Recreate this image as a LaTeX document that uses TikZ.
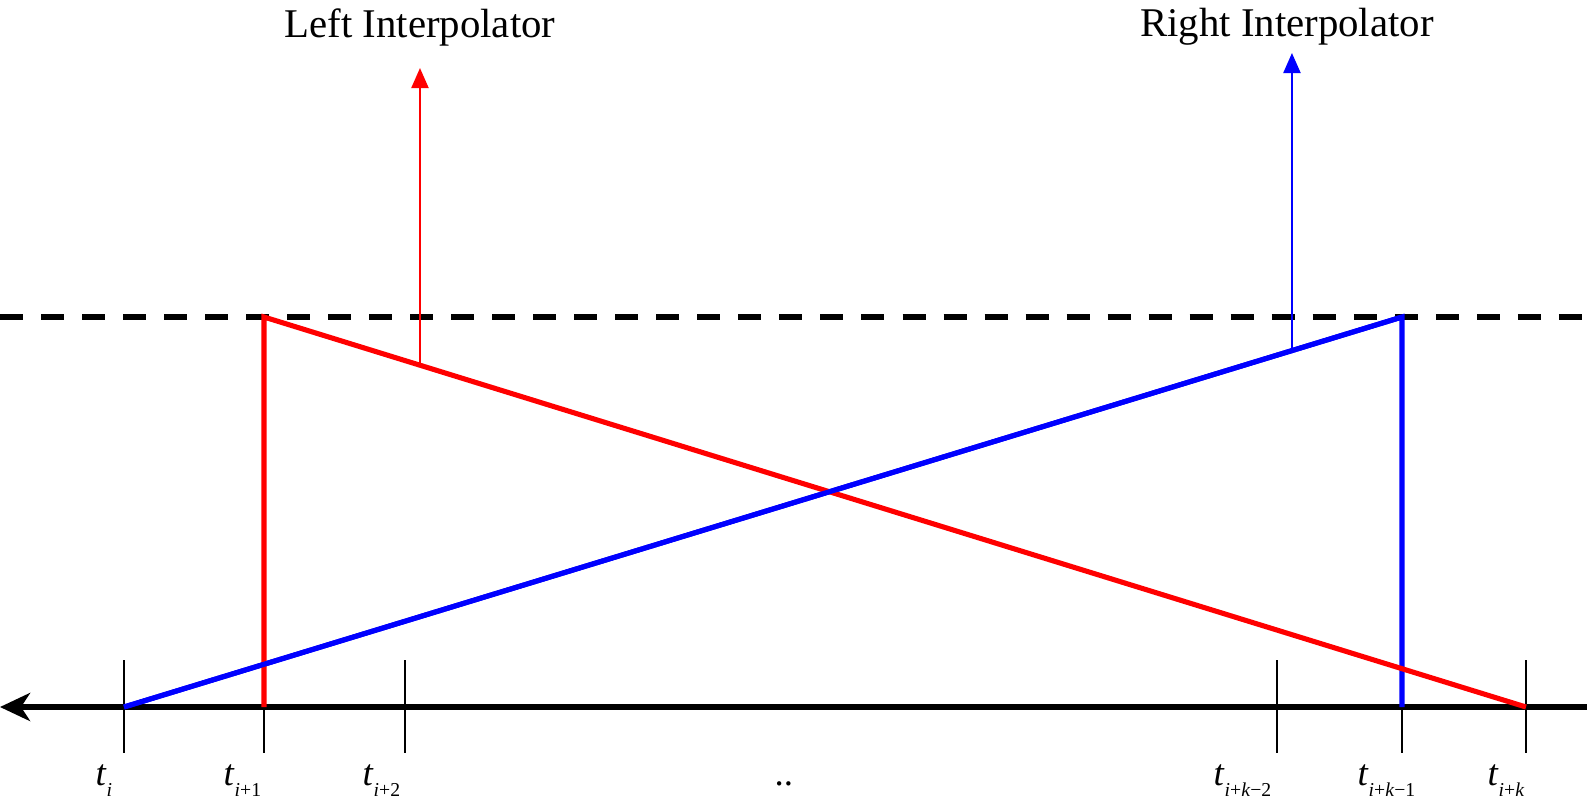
\documentclass[tikz,border=0pt]{standalone}
\usepackage{fontspec}
\setmainfont{Liberation Serif}
\usetikzlibrary{arrows.meta,positioning,calc}

% knot label: t with a lowered index
\newcommand{\knot}[1]{\textit{t}\raisebox{-0.3em}{\fontsize{5.6}{7}\selectfont #1}}

\begin{document}
\begin{tikzpicture}[x=0.01cm,y=-0.01cm,
        axisline/.style={line width=1.9pt, -{Stealth[length=0.3cm,width=0.28cm,inset=0.09cm]}},
        tickline/.style={line width=0.45pt},
        knotlabel/.style={font=\fontsize{10.5}{12}\selectfont, anchor=base west, inner sep=0pt},
        level/.style={line width=1.7pt, dash pattern=on 0.23cm off 0.18cm},
        basis/.style={line width=1.45pt, miter limit=20},
        pointer/.style={line width=0.6pt, -{Triangle[length=0.2cm,width=0.17cm]}},
        title/.style={font=\fontsize{11.6}{14}\selectfont, inner sep=0pt}]
  \useasboundingbox (0,0) rectangle (1587,805);

  % axis and knots
  \coordinate (axr) at (1587,707);
  \coordinate (axl) at (0,707);
  \draw[axisline] (axr) -- (axl);
  \foreach \name/\x in {k0/124, k1/264, k2/405, km2/1277, km1/1402, kk/1526} {
    \coordinate (\name) at (\x,707);
    \draw[tickline] (\x,660) -- (\x,753);
  }
  \node[knotlabel] (l0)   at (95,785)   {\knot{\textit{i}}};
  \node[knotlabel] (l1)   at (223,785)  {\knot{\textit{i}+1}};
  \node[knotlabel] (l2)   at (362,785)  {\knot{\textit{i}+2}};
  \node[knotlabel] (ldots) at (774,785) {..};
  \node[knotlabel] (lm2)  at (1213,785) {\knot{\textit{i}+\textit{k}−2}};
  \node[knotlabel] (lm1)  at (1357,785) {\knot{\textit{i}+\textit{k}−1}};
  \node[knotlabel] (lk)   at (1487,785) {\knot{\textit{i}+\textit{k}}};

  % level one
  \draw[level] (0,317) -- (1587,317);
  \coordinate (rtop) at (264,317);
  \coordinate (btop) at (1402,317);

  % the two interpolators
  \draw[basis, blue] (k0) -- (btop) -- (km1);
  \draw[basis, red] (k1) -- (rtop) -- (kk);
  \draw[basis, blue] (k0) -- (btop);

  \path (rtop) -- (kk) coordinate[pos=0.1236] (lfoot);
  \path (k0) -- (btop) coordinate[pos=0.9139] (rfoot);

  \node[title] (lname) at (420,27) {Left Interpolator};
  \node[title] (rname) at (1287,27) {Right Interpolator};
  \coordinate (ltip) at (lfoot |- 0,68);
  \coordinate (rtip) at (rfoot |- 0,53);
  \draw[pointer, red] (lfoot) -- (ltip);
  \draw[pointer, blue] (rfoot) -- (rtip);
\end{tikzpicture}
\end{document}
